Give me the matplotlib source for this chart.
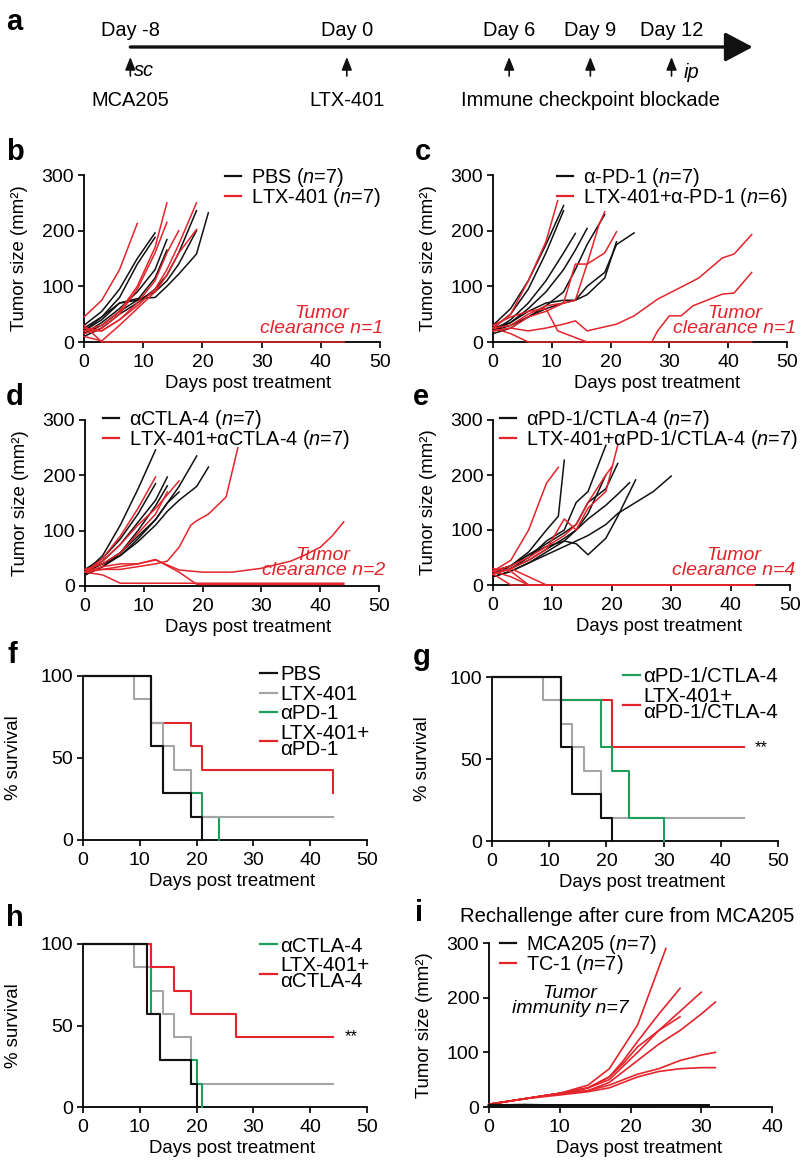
import matplotlib
matplotlib.use('Agg')
import matplotlib.pyplot as plt
from matplotlib.lines import Line2D

plt.rcParams['font.family'] = ['Liberation Sans', 'DejaVu Sans']
plt.rcParams['mathtext.fontset'] = 'custom'
plt.rcParams['mathtext.rm'] = 'Liberation Sans'
plt.rcParams['mathtext.it'] = 'Liberation Sans:italic'
plt.rcParams['font.size'] = 13
plt.rcParams['axes.linewidth'] = 1.3

BLACK = '#111111'
RED = '#e3242b'
GRAY = '#a5a5a5'
GREEN = '#1e9e5c'

# ---------------------------------------------------------------
# DATA
# ---------------------------------------------------------------
# a: timeline
event_days = [-8, 0, 6, 9, 12]
event_labels = ['Day -8', 'Day 0', 'Day 6', 'Day 9', 'Day 12']

# b: PBS vs LTX-401
b_black_days = [[0, 3, 6, 9, 12], [0, 3, 6, 9, 12], [0, 3, 6, 9, 12, 14], [0, 3, 6, 9, 12, 14],
                [0, 3, 6, 9, 12, 14, 16, 19], [0, 3, 6, 9, 12, 14, 16, 19, 21], [0, 3, 6, 9, 12, 14, 16, 19]]
b_black_vals = [[30, 55, 95, 150, 196], [20, 45, 80, 140, 188], [15, 35, 60, 90, 130, 184], [25, 45, 70, 75, 115, 165],
                [10, 25, 50, 70, 95, 120, 160, 236], [20, 40, 70, 78, 80, 100, 122, 158, 232], [15, 30, 55, 75, 90, 110, 140, 200]]
b_red_days = [[0, 3, 6, 9], [0, 3, 6, 9, 12, 14], [0, 3, 6, 9, 12, 14], [0, 3, 6, 9, 12, 14, 16],
              [0, 3, 6, 9, 12, 14, 16, 19], [0, 3, 6, 9, 12, 14, 16, 19], [0, 3, 44]]
b_red_vals = [[45, 75, 130, 213], [20, 30, 55, 100, 170, 250], [15, 25, 50, 95, 160, 215], [20, 20, 40, 70, 110, 160, 200],
              [25, 20, 40, 65, 95, 130, 175, 250], [10, 2, 30, 60, 90, 120, 160, 202], [30, 0, 0]]

# c: a-PD-1 vs LTX-401 + a-PD-1
c_black_days = [[0, 3, 6, 9, 12], [0, 3, 6, 9, 12], [0, 3, 6, 9, 12, 14], [0, 3, 6, 9, 12, 14, 16],
                [0, 3, 6, 9, 12, 14, 16, 19], [0, 3, 6, 9, 12, 14, 16, 19, 21, 24], [0, 3, 6, 9, 12, 14, 16, 19, 21]]
c_black_vals = [[30, 60, 110, 175, 245], [25, 50, 95, 160, 236], [20, 40, 70, 110, 160, 195], [20, 35, 60, 90, 130, 165, 204],
                [15, 25, 45, 65, 90, 130, 175, 229], [25, 35, 55, 70, 75, 75, 100, 125, 175, 196],
                [20, 30, 45, 60, 70, 75, 85, 115, 180]]
c_red_days = [[0, 3, 6, 9, 11], [0, 3, 6, 9, 12, 14, 16, 18, 19], [0, 3, 6, 9, 12, 14, 16, 19, 21],
              [0, 3, 6, 9, 12, 14, 16, 21, 24, 28, 33, 35, 39, 41, 44],
              [0, 3, 6, 9, 11, 16, 27, 28, 30, 32, 34, 39, 41, 44], [0, 3, 6, 44]]
c_red_vals = [[25, 50, 110, 180, 254], [20, 25, 45, 55, 70, 75, 140, 210, 234], [25, 30, 50, 65, 70, 140, 140, 160, 198],
              [20, 25, 20, 25, 32, 38, 20, 32, 47, 77, 104, 115, 151, 158, 193],
              [30, 45, 55, 60, 20, 0, 0, 20, 47, 47, 65, 86, 88, 125], [25, 15, 0, 0]]

# d: aCTLA-4 vs LTX-401 + aCTLA-4
d_black_days = [[0, 3, 6, 9, 12], [0, 3, 6, 9, 12, 14, 16, 19], [0, 3, 6, 9, 12, 14, 16, 19, 21],
                [0, 3, 6, 9, 12, 14], [0, 3, 6, 9, 12, 14], [0, 3, 6, 9, 12], [0, 3, 6, 9, 12, 14, 16]]
d_black_vals = [[25, 55, 110, 175, 246], [25, 40, 60, 90, 120, 150, 180, 235], [30, 40, 55, 80, 110, 135, 155, 180, 215],
                [25, 45, 75, 115, 155, 197], [20, 35, 60, 100, 145, 181], [30, 50, 85, 130, 185],
                [20, 35, 55, 85, 120, 150, 170]]
d_red_days = [[0, 3, 6, 9, 12], [0, 3, 6, 9, 12, 14, 16], [0, 3, 6, 9, 12, 14, 16, 18, 19, 21, 24, 26],
              [0, 3, 6, 9, 12, 16, 20, 25, 30, 35, 37, 40, 42, 44], [0, 3, 6, 44],
              [0, 3, 6, 9, 12, 16, 19, 44], [0, 3, 6, 9, 12, 14]]
d_red_vals = [[25, 50, 90, 140, 197], [25, 45, 75, 110, 140, 165, 190], [25, 30, 30, 35, 40, 45, 70, 110, 118, 130, 161, 250],
              [30, 30, 35, 40, 47, 29, 25, 25, 32, 45, 54, 70, 90, 116], [25, 20, 5, 5],
              [25, 35, 40, 40, 48, 25, 3, 3], [30, 40, 60, 95, 130, 170]]

# e: aPD-1/CTLA-4 vs LTX-401 + aPD-1/CTLA-4
e_black_days = [[0, 3, 6, 9, 11, 12], [0, 3, 6, 9, 12, 14, 16, 19], [0, 3, 6, 9, 12, 14, 16, 19, 21],
                [0, 3, 6, 9, 12, 14, 16, 19], [0, 3, 6, 9, 12, 14, 16, 19, 21, 24],
                [0, 3, 6, 9, 12, 16, 19, 21, 24, 27, 30], [0, 3, 6, 9, 12, 14, 16, 19, 21, 23]]
e_black_vals = [[20, 35, 60, 100, 125, 227], [20, 30, 50, 80, 100, 150, 170, 254], [25, 35, 55, 75, 95, 110, 150, 175, 221],
                [15, 25, 40, 60, 80, 100, 130, 200], [20, 35, 55, 70, 80, 75, 55, 85, 125, 191],
                [15, 25, 40, 55, 70, 90, 110, 130, 150, 170, 198], [20, 30, 45, 65, 85, 100, 120, 145, 165, 186]]
e_red_days = [[0, 3, 6, 9, 11], [0, 3, 6, 9, 12, 14, 16, 19, 21], [0, 3, 6, 9, 12, 14, 16, 19, 20],
              [0, 3, 44], [0, 3, 6, 44], [0, 3, 6, 44], [0, 3, 6, 9, 44]]
e_red_vals = [[25, 45, 100, 185, 214], [20, 30, 45, 65, 120, 100, 140, 170, 254], [25, 35, 50, 70, 90, 110, 150, 200, 215],
              [20, 0, 0], [25, 15, 0, 0], [30, 25, 0, 0], [20, 30, 15, 0, 0]]

# f-h: survival (Kaplan-Meier steps, % survival)
pbs_t, pbs_s = [0, 12, 14, 19, 21], [100, 57.1, 28.6, 14.3, 0]
ltx_t, ltx_s = [0, 9, 12, 14, 16, 19, 44], [100, 85.7, 71.4, 57.1, 42.9, 14.3, 14.3]
pd1_t, pd1_s = [0, 12, 14, 21, 24], [100, 57.1, 28.6, 14.3, 0]
ltx_pd1_t, ltx_pd1_s = [0, 12, 19, 21, 44], [100, 71.4, 57.1, 42.9, 28.6]
combo_t, combo_s = [0, 12, 19, 21, 24, 30], [100, 85.7, 57.1, 42.9, 14.3, 0]
ltx_combo_t, ltx_combo_s = [0, 12, 21, 44], [100, 85.7, 57.1, 57.1]
h_pbs_t, h_pbs_s = [0, 11.3, 13.5, 19, 20], [100, 57.1, 28.6, 14.3, 0]
ctla_t, ctla_s = [0, 12, 13.5, 20, 21], [100, 57.1, 28.6, 14.3, 0]
ltx_ctla_t, ltx_ctla_s = [0, 12, 16, 19, 27, 44], [100, 85.7, 71.4, 57.1, 42.9, 42.9]

# i: rechallenge
i_black_days = [[0, 5, 10, 14, 17, 19, 21, 24, 27, 31]] * 7
i_black_vals = [[3, 3, 2, 2, 3, 2, 2, 3, 2, 2], [2, 2, 3, 3, 2, 3, 3, 2, 3, 3], [4, 3, 3, 2, 2, 2, 3, 3, 3, 2],
                [1, 2, 2, 3, 3, 3, 2, 2, 2, 3], [3, 4, 3, 3, 2, 2, 2, 3, 3, 3], [2, 3, 2, 2, 3, 3, 3, 2, 2, 2],
                [3, 2, 3, 3, 3, 2, 2, 2, 3, 3]]
i_red_days = [[0, 5, 10, 14, 17, 19, 21, 23, 25], [0, 5, 10, 14, 17, 19, 21, 24, 27],
              [0, 5, 10, 14, 17, 19, 21, 24, 27, 30], [0, 5, 10, 14, 17, 19, 21, 24, 27, 30, 32],
              [0, 5, 10, 14, 17, 19, 21, 24, 27], [0, 5, 10, 14, 17, 19, 21, 24, 27, 30, 32],
              [0, 5, 10, 14, 17, 19, 21, 24, 27, 30, 32]]
i_red_vals = [[5, 15, 25, 40, 70, 110, 150, 220, 290], [5, 15, 25, 35, 55, 85, 120, 170, 217],
              [5, 15, 25, 35, 50, 75, 100, 140, 175, 210], [5, 15, 25, 30, 45, 65, 85, 115, 140, 170, 192],
              [5, 15, 25, 35, 55, 80, 110, 140, 165], [5, 15, 25, 30, 40, 50, 60, 70, 85, 95, 100],
              [5, 15, 22, 28, 35, 45, 55, 65, 70, 72, 72]]

# ---------------------------------------------------------------
# LAYOUT HELPERS
# ---------------------------------------------------------------
W, H = 800, 1161
TICK_FS = 14
LABEL_FS = 13.4
LEG_FS = 14.3
SURV_LEG_FS = 14.8
fig = plt.figure(figsize=(W / 100, H / 100), dpi=100)


def px_axes(x0, y_top, x1, y_bot):
    return fig.add_axes([x0 / W, 1 - y_bot / H, (x1 - x0) / W, (y_bot - y_top) / H])


def style_axes(ax, xmax, yticks):
    ax.spines['top'].set_visible(False)
    ax.spines['right'].set_visible(False)
    ax.set_xlim(0, xmax)
    ax.set_ylim(0, yticks[-1])
    ax.set_xticks(range(0, xmax + 1, 10))
    ax.set_yticks(yticks)
    ax.tick_params(direction='out', length=4, width=1.3, labelsize=TICK_FS, color=BLACK)
    ax.tick_params(axis='x', pad=4.5)
    ax.tick_params(axis='y', pad=3)


def panel_letter(x, y, s):
    fig.text(x / W, 1 - y / H, s, fontsize=21, fontweight='bold', va='center', ha='left')


def growth_panel(ax, bd, bv, rd, rv, labels, leg_xy, note, note_xy, xlab_x):
    for d, v in zip(bd, bv):
        ax.plot(d, v, color=BLACK, lw=1.1, clip_on=False, zorder=3)
    for d, v in zip(rd, rv):
        ax.plot(d, v, color=RED, lw=1.1, clip_on=False, zorder=3)
    style_axes(ax, 50, [0, 100, 200, 300])
    ax.set_ylabel('Tumor size (mm²)', fontsize=LABEL_FS)
    ax.yaxis.set_label_coords(-0.19, 0.5)
    ax.set_xlabel('Days post treatment', fontsize=LABEL_FS)
    ax.xaxis.set_label_coords(xlab_x, -0.2)
    handles = [Line2D([], [], color=BLACK, lw=1.6), Line2D([], [], color=RED, lw=1.6)]
    ax.legend(handles, labels, loc='upper left', bbox_to_anchor=leg_xy, frameon=False, fontsize=LEG_FS,
              handlelength=0.8, handletextpad=0.5, labelspacing=-0.16, borderpad=0, borderaxespad=0)
    ax.text(note_xy[0], note_xy[1], note, transform=ax.transAxes, color=RED, style='italic',
            ha='center', va='center', fontsize=14, linespacing=0.9)


def survival_panel(ax, curves, labels, leg_xy, xlab_x):
    for t, s, c in curves:
        ax.step(t, s, where='post', color=c, lw=1.5, clip_on=False, zorder=3)
    style_axes(ax, 50, [0, 50, 100])
    ax.set_ylabel('% survival', fontsize=LABEL_FS)
    ax.yaxis.set_label_coords(-0.215, 0.5)
    ax.set_xlabel('Days post treatment', fontsize=LABEL_FS)
    ax.xaxis.set_label_coords(xlab_x, -0.2)
    handles = [Line2D([], [], color=c, lw=1.6) for c in labels.values()]
    leg = ax.legend(handles, list(labels.keys()), loc='upper left', bbox_to_anchor=leg_xy, frameon=False,
                    fontsize=SURV_LEG_FS, handlelength=0.85, handletextpad=0.15, labelspacing=0.02,
                    borderpad=0, borderaxespad=0)
    for txt in leg.get_texts():
        txt.set_linespacing(0.8)


# ---------------------------------------------------------------
# a: TIMELINE
# ---------------------------------------------------------------
ax_a = fig.add_axes([0, 1 - 120 / H, 1, 120 / H])
ax_a.set_xlim(-346.8 / 27.06, (W - 346.8) / 27.06)
ax_a.set_ylim(120, 0)
ax_a.axis('off')
ax_a.annotate('', xy=(15.0, 47), xytext=(event_days[0], 47),
              arrowprops=dict(arrowstyle='-|>,head_length=0.85,head_width=0.45', lw=2.4, color=BLACK,
                              mutation_scale=20, shrinkA=0, shrinkB=0))
for d, lab in zip(event_days, event_labels):
    ax_a.annotate('', xy=(d, 57), xytext=(d, 76),
                  arrowprops=dict(arrowstyle='-|>,head_length=0.55,head_width=0.22', lw=1.2, color=BLACK,
                                  mutation_scale=14, shrinkA=0, shrinkB=0))
    ax_a.text(d, 30, lab, ha='center', va='center', fontsize=14.4)
ax_a.text(event_days[0] + 0.15, 70, 'sc', style='italic', ha='left', va='center', fontsize=14.4)
ax_a.text(event_days[-1] + 0.45, 72, 'ip', style='italic', ha='left', va='center', fontsize=14.4)
ax_a.text(event_days[0], 100, 'MCA205', ha='center', va='center', fontsize=14.4)
ax_a.text(event_days[1], 100, 'LTX-401', ha='center', va='center', fontsize=14.4)
ax_a.text(event_days[3], 100, 'Immune checkpoint blockade', ha='center', va='center', fontsize=14.4)
panel_letter(6, 22, 'a')

# ---------------------------------------------------------------
# b-e: TUMOR GROWTH
# ---------------------------------------------------------------
ax_b = px_axes(84, 175, 380, 342)
growth_panel(ax_b, b_black_days, b_black_vals, b_red_days, b_red_vals,
             ['PBS ($\\mathit{n}$=7)', 'LTX-401 ($\\mathit{n}$=7)'], (0.476, 1.055),
             'Tumor\nclearance n=1', (0.804, 0.126), 0.554)
panel_letter(6, 152, 'b')

ax_c = px_axes(493, 175, 787, 342)
growth_panel(ax_c, c_black_days, c_black_vals, c_red_days, c_red_vals,
             ['α-PD-1 ($\\mathit{n}$=7)', 'LTX-401+α-PD-1 ($\\mathit{n}$=6)'], (0.218, 1.055),
             'Tumor\nclearance n=1', (0.823, 0.126), 0.558)
panel_letter(415, 152, 'c')

ax_d = px_axes(85, 420, 379, 586)
growth_panel(ax_d, d_black_days, d_black_vals, d_red_days, d_red_vals,
             ['αCTLA-4 ($\\mathit{n}$=7)', 'LTX-401+αCTLA-4 ($\\mathit{n}$=7)'], (0.061, 1.07),
             'Tumor\nclearance n=2', (0.81, 0.139), 0.554)
panel_letter(6, 397, 'd')

ax_e = px_axes(493, 420, 790, 585)
growth_panel(ax_e, e_black_days, e_black_vals, e_red_days, e_red_vals,
             ['αPD-1/CTLA-4 ($\\mathit{n}$=7)', 'LTX-401+αPD-1/CTLA-4 ($\\mathit{n}$=7)'], (0.024, 1.07),
             'Tumor\nclearance n=4', (0.811, 0.133), 0.558)
panel_letter(413, 397, 'e')

# ---------------------------------------------------------------
# f-h: SURVIVAL
# ---------------------------------------------------------------
ax_f = px_axes(83, 676, 367, 840)
survival_panel(ax_f, [(pd1_t, pd1_s, GREEN), (ltx_pd1_t, ltx_pd1_s, RED), (ltx_t, ltx_s, GRAY), (pbs_t, pbs_s, BLACK)],
               {'PBS': BLACK, 'LTX-401': GRAY, 'αPD-1': GREEN, 'LTX-401+\nαPD-1': RED}, (0.623, 1.065), 0.525)
panel_letter(8, 655, 'f')

ax_g = px_axes(492, 677, 778, 841)
survival_panel(ax_g, [(ltx_t, ltx_s, GRAY), (ltx_combo_t, ltx_combo_s, RED), (combo_t, combo_s, GREEN), (pbs_t, pbs_s, BLACK)],
               {'αPD-1/CTLA-4': GREEN, 'LTX-401+\nαPD-1/CTLA-4': RED}, (0.458, 1.058), 0.525)
ax_g.text(46, ltx_combo_s[-1], '**', ha='left', va='center', fontsize=12, clip_on=False)
panel_letter(413, 657, 'g')

ax_h = px_axes(83, 944, 367, 1107)
survival_panel(ax_h, [(ltx_t, ltx_s, GRAY), (ctla_t, ctla_s, GREEN), (ltx_ctla_t, ltx_ctla_s, RED), (h_pbs_t, h_pbs_s, BLACK)],
               {'αCTLA-4': GREEN, 'LTX-401+\nαCTLA-4': RED}, (0.623, 1.045), 0.525)
ax_h.text(46, ltx_ctla_s[-1], '**', ha='left', va='center', fontsize=12, clip_on=False)
panel_letter(6, 918, 'h')

# ---------------------------------------------------------------
# i: RECHALLENGE
# ---------------------------------------------------------------
ax_i = px_axes(489, 943, 772, 1107)
for d, v in zip(i_red_days, i_red_vals):
    ax_i.plot(d, v, color=RED, lw=1.2, clip_on=False, zorder=3)
for d, v in zip(i_black_days, i_black_vals):
    ax_i.plot(d, v, color=BLACK, lw=1.6, clip_on=False, zorder=3)
style_axes(ax_i, 40, [0, 100, 200, 300])
ax_i.set_ylabel('Tumor size (mm²)', fontsize=LABEL_FS)
ax_i.yaxis.set_label_coords(-0.198, 0.5)
ax_i.set_xlabel('Days post treatment', fontsize=LABEL_FS)
ax_i.xaxis.set_label_coords(0.53, -0.2)
ax_i.legend([Line2D([], [], color=BLACK, lw=1.6), Line2D([], [], color=RED, lw=1.6)],
            ['MCA205 ($\\mathit{n}$=7)', 'TC-1 ($\\mathit{n}$=7)'], loc='upper left', bbox_to_anchor=(0.039, 1.062),
            frameon=False, fontsize=LEG_FS, handlelength=0.8, handletextpad=0.5, labelspacing=-0.16,
            borderpad=0, borderaxespad=0)
ax_i.text(0.286, 0.646, 'Tumor\nimmunity n=7', transform=ax_i.transAxes, style='italic',
          ha='center', va='center', fontsize=14, linespacing=0.9)
ax_i.text(0.488, 1.159, 'Rechallenge after cure from MCA205', transform=ax_i.transAxes,
          ha='center', va='center', fontsize=14.6)
panel_letter(415, 913, 'i')

plt.savefig('out.png', dpi=100)
plt.close()
